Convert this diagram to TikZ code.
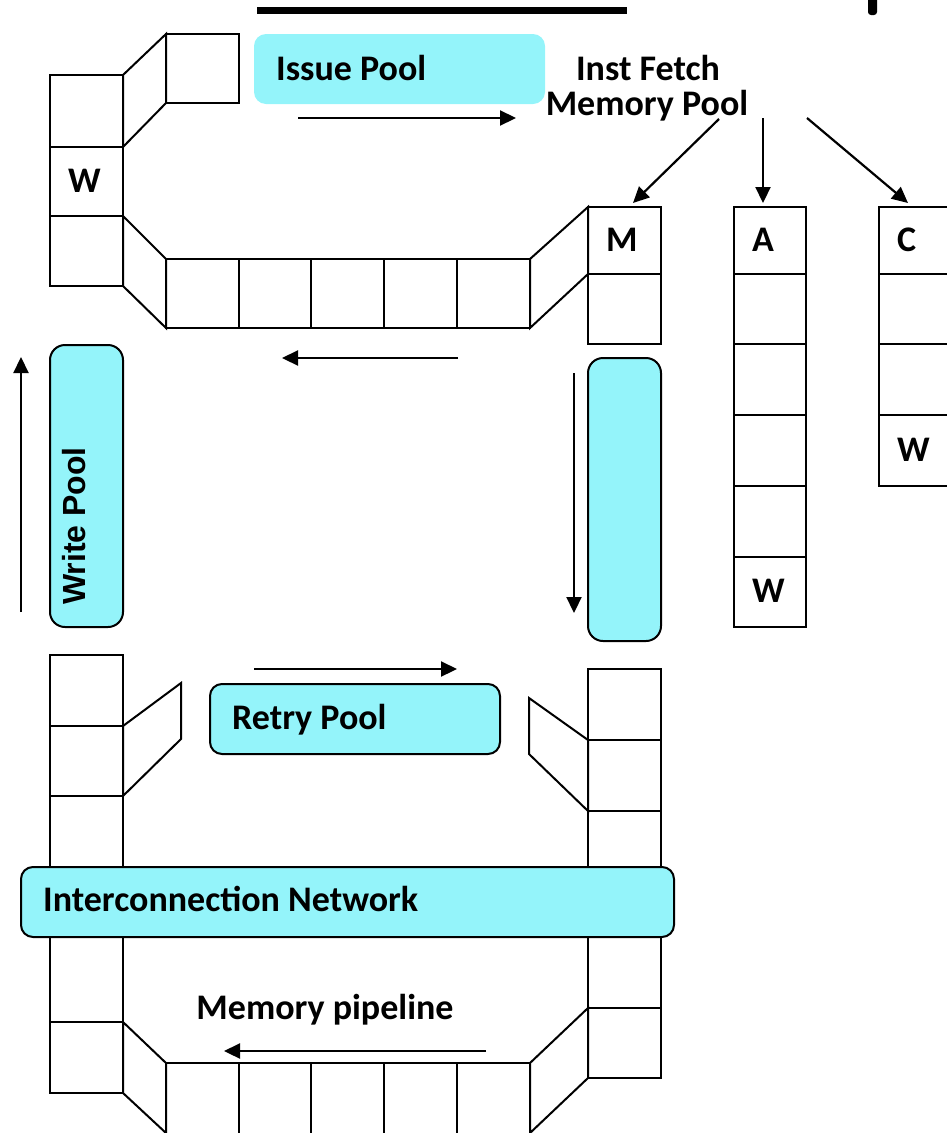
\documentclass[tikz,border=0pt]{standalone}
\usepackage{fontspec}
\setmainfont{Carlito}
\newfontfamily\arialfont{Liberation Sans}
\usetikzlibrary{arrows.meta}
\definecolor{poolcyan}{RGB}{148,244,250}

\begin{document}
\begin{tikzpicture}[x=1pt, y=-1pt, line join=miter,
    >={Triangle[length=16pt, width=15pt]},
    cell/.style={draw, line width=2pt},
    pool/.style={fill=poolcyan, draw, line width=2pt, rounded corners=12pt},
    flow/.style={->, line width=2.2pt},
    lbl/.style={font=\fontsize{36}{40}\selectfont\bfseries, inner sep=0pt}]
  \useasboundingbox (0,0) rectangle (946,1133);
  % Slide title remnants
  \fill (257,7) rectangle (627,14);
  \fill[rounded corners=3pt] (868,-5) rectangle (877,15);

  % Upper ring of queues
  \draw[cell] (50,75) rectangle (123,286);
  \foreach \y in {147,216} \draw[cell] (50,\y) -- (123,\y);
  \draw[cell] (166,34) rectangle (239,103);
  \draw[cell] (123,75) -- (166,34) -- (166,103) -- (123,147) -- cycle;
  \draw[cell] (123,216) -- (166,259) -- (166,328) -- (123,286) -- cycle;
  \draw[cell] (166,259) rectangle (530,328);
  \foreach \x in {239,311,384,457} \draw[cell] (\x,259) -- (\x,328);
  \draw[cell] (530,259) -- (588,207) -- (588,274) -- (530,328) -- cycle;
  \node[lbl, anchor=west] (wtop) at (68,181) {W};

  % Fetch columns
  \draw[cell] (588,207) rectangle (661,344);
  \draw[cell] (588,274) -- (661,274);
  \draw[cell] (734,207) rectangle (806,627);
  \foreach \y in {274,344,415,486,557} \draw[cell] (734,\y) -- (806,\y);
  \draw[cell] (879,207) rectangle (960,486);
  \foreach \y in {274,344,415} \draw[cell] (879,\y) -- (960,\y);
  \node[lbl, anchor=west] (mcol) at (606,240) {M};
  \node[lbl, anchor=west] (acol) at (752,240) {A};
  \node[lbl, anchor=west] (ccol) at (897,240) {C};
  \node[lbl, anchor=west] (wa) at (752,591) {W};
  \node[lbl, anchor=west] (wc) at (897,450) {W};
  \coordinate (mtop) at (633,203);
  \coordinate (atop) at (763,203);
  \coordinate (ctop) at (908,203);

  % Pools
  \fill[poolcyan, rounded corners=12pt] (254,34) rectangle (545,104);
  \node[lbl, anchor=base west] (issue) at (276,80) {Issue Pool};
  \node[lbl, anchor=base] (instfetch) at (648,80) {Inst Fetch};
  \node[lbl, anchor=base] (mempool) at (647,115) {Memory Pool};
  \coordinate (fm) at (719,119);
  \coordinate (fa) at (763,118);
  \coordinate (fc) at (807,118);
  \draw[flow] (fm) -- (mtop);
  \draw[flow] (fa) -- (atop);
  \draw[flow] (fc) -- (ctop);

  \draw[pool, rounded corners=15pt] (50,345) rectangle (123,627);
  \node[font=\arialfont\fontsize{32}{36}\selectfont\bfseries, inner sep=0pt,
        rotate=90, anchor=base west] (write) at (85,605) {Write Pool};
  \draw[pool, rounded corners=15pt] (588,358) rectangle (661,641);

  % Flow direction
  \draw[flow] (298,118) -- (516,118);
  \draw[flow] (458,358) -- (282,358);
  \draw[flow] (574,373) -- (574,613);
  \draw[flow] (21,612) -- (21,357);
  \draw[flow] (254,669) -- (457,669);
  \draw[flow] (486,1051) -- (224,1051);

  % Lower ring of queues
  \draw[cell] (50,655) rectangle (123,1093);
  \foreach \y in {726,796,1022} \draw[cell] (50,\y) -- (123,\y);
  \draw[cell] (123,726) -- (181,683) -- (181,739) -- (123,796) -- cycle;
  \draw[cell] (588,669) rectangle (661,1078);
  \foreach \y in {740,811,1008} \draw[cell] (588,\y) -- (661,\y);
  \draw[cell] (529,698) -- (588,740) -- (588,811) -- (529,754) -- cycle;
  \draw[cell] (123,1022) -- (166,1063) -- (166,1133) -- (123,1093) -- cycle;
  \draw[cell] (166,1063) rectangle (530,1140);
  \foreach \x in {239,311,384,457} \draw[cell] (\x,1063) -- (\x,1140);
  \draw[cell] (530,1063) -- (588,1008) -- (588,1078) -- (530,1133) -- cycle;

  \draw[pool] (210,684) rectangle (500,754);
  \node[lbl, anchor=base west] (retry) at (232,729) {Retry Pool};
  \draw[pool] (21,867) rectangle (674,937);
  \node[lbl, anchor=base west] (network) at (43,911) {Interconnection Network};
  \node[lbl, anchor=base] (pipeline) at (325,1019) {Memory pipeline};
\end{tikzpicture}
\end{document}
